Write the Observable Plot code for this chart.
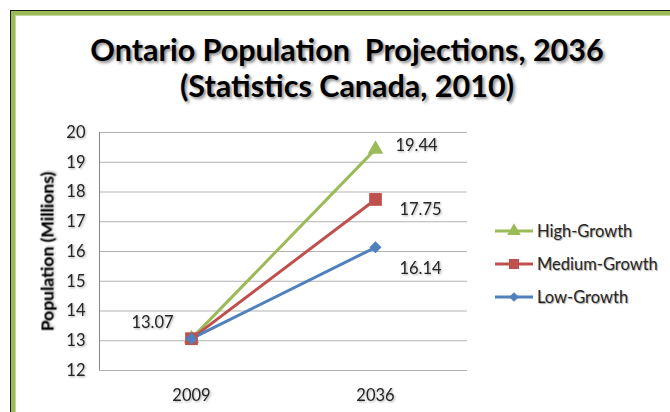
<!DOCTYPE html>
<html>
<head>
<meta charset="utf-8">
<script src="https://cdn.jsdelivr.net/npm/d3@7"></script>
<script src="https://cdn.jsdelivr.net/npm/@observablehq/plot@0.6"></script>
<style>
  html, body { margin: 0; padding: 0; background: #fff; }
  body { width: 670px; height: 412px; position: relative; overflow: hidden; font-family: Lato, "Open Sans", sans-serif; }
  .frame1 { position: absolute; left: 10px; top: 10px; width: 720px; height: 460px; border-left: 1px solid #1a1a1a; border-top: 1px solid #1a1a1a; }
  .frame2 { position: absolute; left: 0; top: 0; right: 0; bottom: 0; border-left: 4px solid #9bbb59; border-top: 4px solid #9bbb59; }
  .frame3 { position: absolute; left: 0; top: 0; right: 0; bottom: 0; border-left: 1px solid #c3d69b; border-top: 1px solid #c3d69b; }
  .title { position: absolute; left: 47px; width: 600px; text-align: center; font-weight: 700; font-size: 30.5px; color: #000; line-height: 36px; top: 31px; text-shadow: 2px 2px 3px rgba(0,0,0,0.45); white-space: nowrap; }
  #chart { position: absolute; left: 0; top: 115px; }
  #chart svg text { filter: drop-shadow(1px 1px 1px rgba(0,0,0,0.35)); }
  .legend { position: absolute; left: 495px; top: 0; font-size: 16.5px; color: #262626; }
  .legend .row { position: absolute; left: 0; height: 20px; display: flex; align-items: center; white-space: nowrap; }
  .legend .row span { margin-left: 4px; text-shadow: 1px 1px 1px rgba(0,0,0,0.35); }
</style>
</head>
<body>
<div class="frame1"><div class="frame2"><div class="frame3"></div></div></div>
<div class="title">Ontario Population&nbsp; Projections, 2036<br>(Statistics Canada, 2010)</div>
<div id="chart"></div>
<div class="legend" id="legend"></div>
<script>
const years = ["2009", "2036"];
const seriesNames = ["High-Growth", "Medium-Growth", "Low-Growth"];
const highGrowth = [13.07, 19.44];
const mediumGrowth = [13.07, 17.75];
const lowGrowth = [13.07, 16.14];
const seriesColors = ["#9bbb59", "#c0504d", "#4f81bd"];
const seriesSymbols = ["triangle", "square", "diamond2"];
const yTicks = [12, 13, 14, 15, 16, 17, 18, 19, 20];

const valuesBySeries = [highGrowth, mediumGrowth, lowGrowth];
const data = seriesNames.flatMap((s, i) => years.map((y, j) => ({series: s, year: y, value: valuesBySeries[i][j]})));

const symbolR = {"High-Growth": 5.8, "Medium-Growth": 7.2, "Low-Growth": 5.4};
const labelStyle = [
  {filter: d => d.year === "2009" && d.series === "Low-Growth", dx: -39, dy: -16},
  {filter: d => d.year === "2036" && d.series === "High-Growth", dx: 41, dy: -3},
  {filter: d => d.year === "2036" && d.series === "Medium-Growth", dx: 45, dy: 10},
  {filter: d => d.year === "2036" && d.series === "Low-Growth", dx: 45, dy: 21}
];

const chart = Plot.plot({
  width: 670,
  height: 297,
  marginLeft: 99,
  marginRight: 203,
  marginTop: 17,
  marginBottom: 42,
  style: {fontFamily: "Lato, 'Open Sans', sans-serif", fontSize: "16.5px", color: "#262626", background: "transparent", overflow: "visible"},
  x: {type: "point", domain: years, padding: 0.5},
  y: {domain: [12, 20]},
  color: {domain: seriesNames, range: seriesColors},
  symbol: {domain: seriesNames, range: seriesSymbols},
  marks: [
    Plot.gridY(yTicks, {stroke: "#b3b3b3", strokeOpacity: 1}),
    Plot.frame({anchor: "left", stroke: "#868686"}),
    Plot.ruleY([12], {stroke: "#b3b3b3"}),
    Plot.axisY({ticks: yTicks, tickSize: 0, tickPadding: 14, fontSize: 16.5, label: null, fill: "#262626"}),
    Plot.axisX({tickSize: 0, tickPadding: 19, fontSize: 16.5, label: null, fill: "#262626"}),
    Plot.text(["Population (Millions)"], {frameAnchor: "left", textAnchor: "middle", dx: -52, rotate: -90, fontWeight: "bold", fontSize: 17.5, fill: "#000"}),
    ...seriesNames.map(s => Plot.line(data.filter(d => d.series === s), {x: "year", y: "value", stroke: "series", strokeWidth: 3})),
    ...seriesNames.map(s => Plot.dot(data.filter(d => d.series === s), {x: "year", y: "value", symbol: "series", fill: "series", stroke: "none", r: symbolR[s]})),
    ...labelStyle.map(l => Plot.text(data.filter(l.filter), {x: "year", y: "value", text: d => d.value.toFixed(2), dx: l.dx, dy: l.dy, fontSize: 16.5, fill: "#262626"}))
  ]
});
document.getElementById("chart").appendChild(chart);

// legend
const legend = document.getElementById("legend");
const rowCenters = [231, 264, 297];
seriesNames.forEach((s, i) => {
  const row = document.createElement("div");
  row.className = "row";
  row.style.top = (rowCenters[i] - 10) + "px";
  const sw = d3.create("svg").attr("width", 38).attr("height", 20);
  sw.append("line").attr("x1", 0).attr("x2", 38).attr("y1", 10).attr("y2", 10).attr("stroke", seriesColors[i]).attr("stroke-width", 3);
  const symType = [d3.symbolTriangle, d3.symbolSquare, d3.symbolDiamond2][i];
  const size = [80, 100, 60][i];
  sw.append("path").attr("transform", "translate(19,10)").attr("d", d3.symbol(symType, size)()).attr("fill", seriesColors[i]);
  row.appendChild(sw.node());
  const t = document.createElement("span");
  t.textContent = s;
  row.appendChild(t);
  legend.appendChild(row);
});
</script>
</body>
</html>
